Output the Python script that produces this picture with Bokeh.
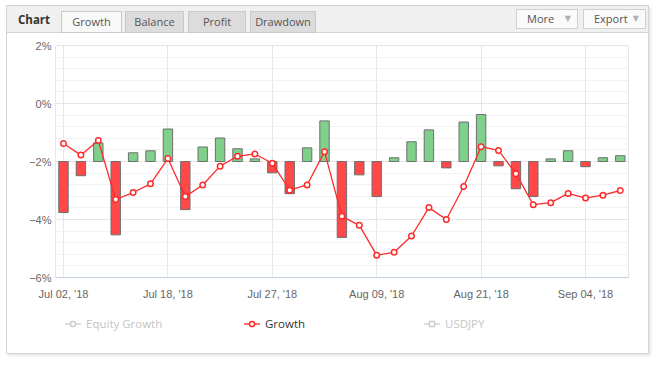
from bokeh.plotting import figure
from bokeh.layouts import column
from bokeh.models import ColumnDataSource, FixedTicker, Range1d, Div
from bokeh.embed import file_html
from bokeh.resources import INLINE

# ---------------- data ----------------
growth = [-1.38, -1.78, -1.28, -3.31, -3.07, -2.77, -1.90, -3.21, -2.81, -2.16,
          -1.82, -1.74, -2.06, -2.99, -2.81, -1.66, -3.89, -4.20, -5.23, -5.13,
          -4.57, -3.59, -4.00, -2.86, -1.49, -1.62, -2.42, -3.49, -3.42, -3.10,
          -3.26, -3.16, -3.00]
daily = [-1.76, -0.49, 0.64, -2.53, 0.30, 0.37, 1.12, -1.66, 0.50, 0.81,
         0.44, 0.09, -0.39, -1.11, 0.47, 1.40, -2.62, -0.46, -1.21, 0.13,
         0.68, 1.09, -0.22, 1.36, 1.62, -0.15, -0.94, -1.21, 0.09, 0.37,
         -0.18, 0.13, 0.20]
bar_base = -2.0
x_tick_pos = [0, 6, 12, 18, 24, 30]
x_tick_labels = ["Jul 02, '18", "Jul 18, '18", "Jul 27, '18",
                 "Aug 09, '18", "Aug 21, '18", "Sep 04, '18"]
y_ticks = [-6, -4, -2, 0, 2]
y_tick_labels = ["\u22126%", "\u22124%", "\u22122%", "0%", "2%"]
y_minor = [-6 + 0.4 * i for i in range(21)]
tabs = ["Growth", "Balance", "Profit", "Drawdown"]
buttons = ["More", "Export"]
legend_names = ["Equity Growth", "Growth", "USDJPY"]

idx = list(range(len(growth)))
RED = "#ff4848"
GREEN = "#7fd08a"
LINE = "#ff2a2a"
W = 641
FONT = "'Open Sans', sans-serif"

# ---------------- header (tabs) ----------------
tab_l = [54, 118, 181, 243]
tab_r = [114, 176, 238, 308]
btn_l = [509, 576]
btn_r = [570, 638]
parts = [f'<div style="position:absolute;left:11px;top:6px;line-height:16px;font-size:11.5px;'
         f'font-weight:bold;color:#333;">Chart</div>']
for i, (name, l, r) in enumerate(zip(tabs, tab_l, tab_r)):
    bg = "#f8f8f8" if i == 0 else "#dcdcdc"
    parts.append(
        f'<div style="position:absolute;left:{l}px;top:5px;width:{r - l + 1}px;height:22px;'
        f'box-sizing:border-box;background:{bg};border:1px solid #c9c9c9;'
        f'text-align:center;line-height:20px;color:#555;">{name}</div>')
for name, l, r in zip(buttons, btn_l, btn_r):
    parts.append(
        f'<div style="position:absolute;left:{l}px;top:3px;width:{r - l + 1}px;height:20px;'
        f'box-sizing:border-box;background:#fafafa;border:1px solid #d0d0d0;'
        f'line-height:18px;color:#555;">'
        f'<span style="position:absolute;left:10px;">{name}</span>'
        f'<span style="position:absolute;right:6px;font-size:8px;color:#b0b0b0;'
        f'font-family:\'DejaVu Sans\';">\u25bc</span></div>')
header_html = (f'<div style="position:relative;width:{W}px;height:27px;background:#f0f0f0;'
               f'border-bottom:1px solid #d4d4d4;box-sizing:border-box;'
               f'font-family:{FONT};font-size:11px;">' + "".join(parts) + '</div>')
header = Div(text=header_html, width=W, height=27, margin=0)

# ---------------- main chart ----------------
p = figure(width=W, height=275, output_backend="svg", toolbar_location=None,
           x_range=Range1d(-0.46, 32.47), y_range=Range1d(-6, 2),
           min_border_left=48, min_border_right=20, min_border_top=12,
           min_border_bottom=31, title=None)
p.background_fill_color = "white"
p.border_fill_color = "white"
p.outline_line_color = "#e6e6e6"

bar_src = ColumnDataSource(dict(
    x=idx,
    top=[bar_base + d for d in daily],
    bottom=[bar_base] * len(daily),
    color=[GREEN if d >= 0 else RED for d in daily]))
p.vbar(x="x", width=0.54, top="top", bottom="bottom", fill_color="color",
       line_color="#6e6e6e", line_width=1, source=bar_src)

p.line(idx, growth, line_color=LINE, line_width=1.3)
p.scatter(idx, growth, size=5.5, fill_color="white", line_color=LINE, line_width=1.5)

p.xaxis.ticker = FixedTicker(ticks=x_tick_pos)
p.xaxis.major_label_overrides = {t: l for t, l in zip(x_tick_pos, x_tick_labels)}
p.xaxis.axis_line_color = "#c0d0e0"
p.xaxis.major_tick_line_color = None
p.xaxis.minor_tick_line_color = None
p.xaxis.major_tick_out = 0
p.xaxis.major_tick_in = 0
p.xaxis.minor_tick_out = 0
p.xaxis.major_label_text_color = "#666666"
p.xaxis.major_label_text_font = "Liberation Sans"
p.xaxis.major_label_text_font_size = "11px"
p.xaxis.major_label_standoff = 10

p.yaxis.ticker = FixedTicker(ticks=y_ticks, minor_ticks=y_minor)
p.yaxis.major_label_overrides = {t: l for t, l in zip(y_ticks, y_tick_labels)}
p.yaxis.axis_line_color = None
p.yaxis.major_tick_line_color = None
p.yaxis.minor_tick_line_color = None
p.yaxis.major_tick_out = 0
p.yaxis.major_tick_in = 0
p.yaxis.minor_tick_out = 0
p.yaxis.major_label_text_color = "#666666"
p.yaxis.major_label_text_font = "Liberation Sans"
p.yaxis.major_label_text_font_size = "11px"
p.yaxis.major_label_standoff = 4

p.xgrid.ticker = FixedTicker(ticks=x_tick_pos)
p.xgrid.grid_line_color = "#e6e6e6"
p.ygrid.grid_line_color = "#e6e6e6"
p.ygrid.minor_grid_line_color = "#f2f2f2"

# ---------------- legend strip ----------------
leg_icon_x = [58, 237, 417]
leg_colors = ["#cccccc", LINE, "#cccccc"]
leg_text_colors = ["#c4c4c4", "#333333", "#c4c4c4"]
leg_markers = ["circle", "circle", "rect"]
lparts = []
for name, x, c, tc, mk in zip(legend_names, leg_icon_x, leg_colors, leg_text_colors, leg_markers):
    if mk == "circle":
        m = f'<circle cx="8" cy="5" r="2.6" fill="white" stroke="{c}" stroke-width="1.5"/>'
    else:
        m = f'<rect x="5.5" y="2.5" width="5" height="5" fill="white" stroke="{c}" stroke-width="1.5"/>'
    lparts.append(
        f'<svg width="16" height="10" style="position:absolute;left:{x}px;top:11px;">'
        f'<line x1="0" y1="5" x2="16" y2="5" stroke="{c}" stroke-width="1.3"/>{m}</svg>'
        f'<div style="position:absolute;left:{x + 21}px;top:7px;line-height:18px;'
        f'color:{tc};">{name}</div>')
legend_html = (f'<div style="position:relative;width:{W}px;height:45px;background:white;'
               f'font-family:{FONT};font-size:11.5px;">' + "".join(lparts) + '</div>')
legend = Div(text=legend_html, width=W, height=45, margin=0)

layout = column(header, p, legend, spacing=0,
                styles={"margin-left": "6px", "margin-top": "5px",
                        "border": "1px solid #d4d4d4", "background": "white",
                        "box-shadow": "2px 2px 3px rgba(0,0,0,0.10)"})

open("out.html", "w").write(file_html(layout, INLINE))
